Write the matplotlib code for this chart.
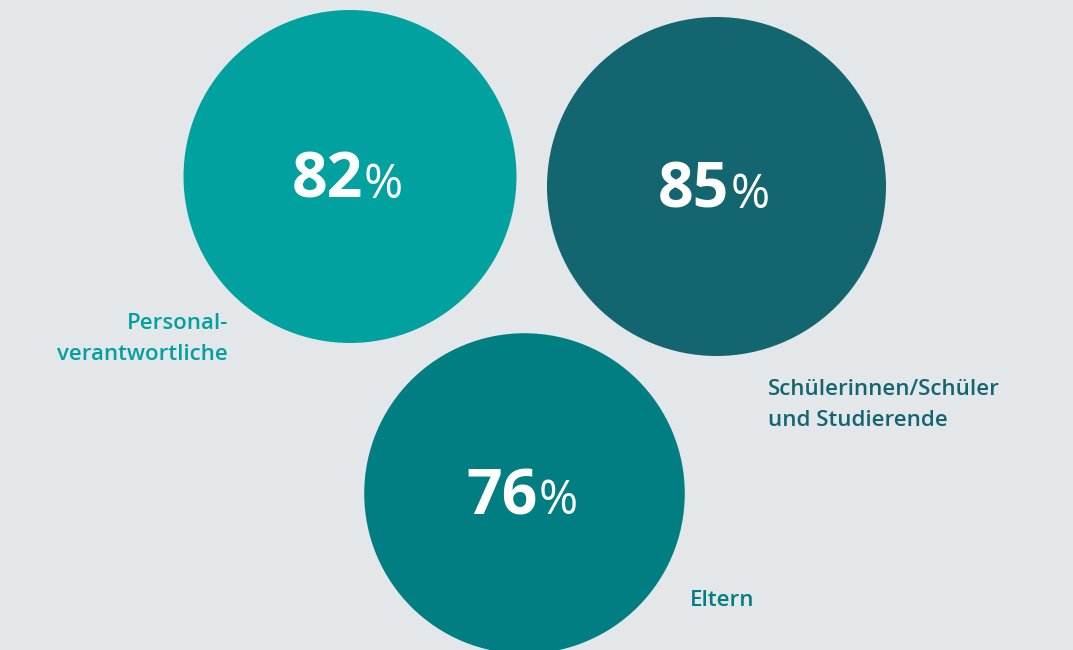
import numpy as np
import matplotlib.pyplot as plt
from matplotlib.patches import Circle

# data
groups = ['Personal-\nverantwortliche', 'Schülerinnen/Schüler\nund Studierende', 'Eltern']
values = [82, 85, 76]
colors = ['#00a19e', '#13656f', '#007e82']

# layout (pixel coordinates, y downward)
centers = [(350, 176.5), (716.5, 186.5), (524.5, 493.5)]
label_pos = [(228, 339, 'right'), (768, 405, 'left'), (690, 600, 'left')]
scale = 169.5 / np.sqrt(85)   # circle area proportional to value

bg = '#e3e7ea'

fig = plt.figure(figsize=(10.73, 6.5), dpi=100, facecolor=bg)
ax = fig.add_axes([0, 0, 1, 1])
ax.set_facecolor(bg)
ax.set_xlim(0, 1073)
ax.set_ylim(650, 0)
ax.set_aspect('equal')
ax.axis('off')

for (cx, cy), v, c in zip(centers, values, colors):
    ax.add_patch(Circle((cx, cy), scale * np.sqrt(v), color=c, lw=0))
    ax.text(cx + 13, cy + 21, str(v), ha='right', va='baseline',
            fontsize=45, fontweight='bold', color='white', family='Open Sans')
    ax.text(cx + 14, cy + 21, '%', ha='left', va='baseline',
            fontsize=34, color='white', family='Open Sans')

for (lx, ly, ha), g, c in zip(label_pos, groups, colors):
    ax.text(lx, ly, g, ha=ha, va='center', fontsize=16, color=c,
            family='Open Sans', fontweight='semibold', linespacing=1.6,
            multialignment=ha)

plt.savefig('out.png', dpi=100, facecolor=bg)
